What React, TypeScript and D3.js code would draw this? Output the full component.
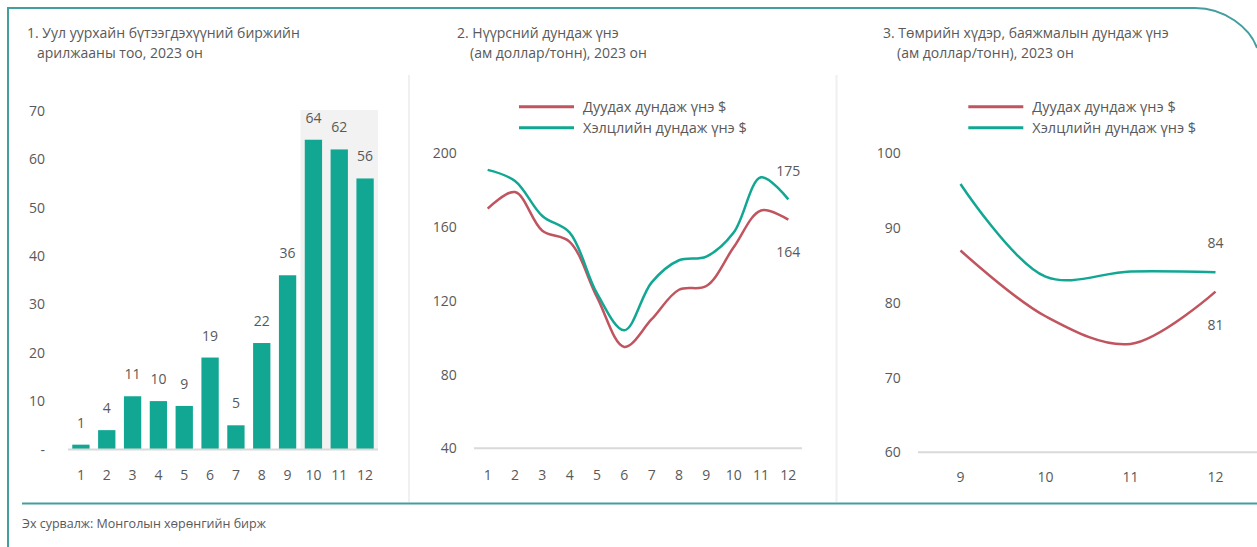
import React from "react";
import * as d3 from "d3";

// ---------- DATA ----------
const months = ["1", "2", "3", "4", "5", "6", "7", "8", "9", "10", "11", "12"];
const tradeCounts = [1, 4, 11, 10, 9, 19, 5, 22, 36, 64, 62, 56];
const tradeTicks = [0, 10, 20, 30, 40, 50, 60, 70];

const coalBid = [170, 179, 158, 152, 122, 95, 110, 126, 128, 149, 169, 164];
const coalDeal = [191, 185, 166, 157, 124, 104, 130, 142, 144, 157, 187, 175];
const coalTicks = [40, 80, 120, 160, 200];

const oreMonths = ["9", "10", "11", "12"];
const oreBid = [87, 78.2, 74.5, 81.5];
const oreDeal = [95.9, 83.5, 84.2, 84.1];
const oreTicks = [60, 70, 80, 90, 100];

const legendNames = ["Дуудах дундаж үнэ $", "Хэлцлийн дундаж үнэ $"];

const titles = [
  ["1. Уул уурхайн бүтээгдэхүүний биржийн", "арилжааны тоо, 2023 он"],
  ["2. Нүүрсний дундаж үнэ", "(ам доллар/тонн), 2023 он"],
  ["3. Төмрийн хүдэр, баяжмалын дундаж үнэ", "(ам доллар/тонн), 2023 он"],
];
const sourceText = "Эх сурвалж: Монголын хөрөнгийн бирж";

// ---------- STYLE ----------
const FONT = "'Open Sans', 'Noto Sans', sans-serif";
const TXT = "#595959";
const TEAL = "#12a793";
const RED = "#c0545f";
const FRAME = "#449e9f";
const GRID = "#d9d9d9";

function Legend({ x, y }: { x: number; y: number }) {
  const colors = [RED, TEAL];
  return (
    <g>
      {legendNames.map((n, i) => (
        <g key={n}>
          <line x1={x} x2={x + 55} y1={y + i * 21} y2={y + i * 21} stroke={colors[i]} strokeWidth={3} />
          <text x={x + 64} y={y + i * 21 + 5} fontSize={14.5} fill={TXT}>{n}</text>
        </g>
      ))}
    </g>
  );
}

export default function App() {
  // Panel 1
  const x1 = d3.scaleBand<string>().domain(months).range([68, 378]).paddingInner(0.33).paddingOuter(0.165);
  const y1 = d3.scaleLinear().domain([0, 70]).range([449.5, 110.7]);

  // Panel 2
  const x2 = d3.scalePoint<string>().domain(months).range([474, 802]).padding(0.5);
  const y2 = d3.scaleLinear().domain([40, 200]).range([448.3, 153.3]);
  const line2 = (vals: number[]) =>
    d3.line<number>().x((_, i) => x2(months[i])!).y((d) => y2(d)).curve(d3.curveCatmullRom.alpha(0.5))(vals)!;

  // Panel 3
  const x3 = d3.scalePoint<string>().domain(oreMonths).range([918, 1258]).padding(0.5);
  const y3 = d3.scaleLinear().domain([60, 100]).range([452.3, 153.3]);
  const line3 = (vals: number[]) =>
    d3.line<number>().x((_, i) => x3(oreMonths[i])!).y((d) => y3(d)).curve(d3.curveCatmullRom.alpha(0.5))(vals)!;

  const shadeX = x1("10")! - (x1.step() - x1.bandwidth()) / 2;

  return (
    <svg
      width={1257}
      height={547}
      style={{ position: "absolute", left: 0, top: 0, display: "block", background: "#fff" }}
      fontFamily={FONT}
    >
      {/* frame */}
      <path d="M8,547 L8,8 L1195,8 C1225,8 1250,28 1257,48" fill="none" stroke={FRAME} strokeWidth={2} />
      <line x1={22} x2={1257} y1={503.5} y2={503.5} stroke={FRAME} strokeWidth={2} />
      <line x1={409} x2={409} y1={75} y2={502} stroke="#f0f0f0" strokeWidth={2} />
      <line x1={836.5} x2={836.5} y1={75} y2={502} stroke="#f0f0f0" strokeWidth={2} />

      {/* titles */}
      {[
        [27, 37],
        [457, 470],
        [883, 897],
      ].map((xs, i) => (
        <g key={i} fontSize={14} fill={TXT}>
          <text x={xs[0]} y={38}>{titles[i][0]}</text>
          <text x={xs[1]} y={58}>{titles[i][1]}</text>
        </g>
      ))}

      {/* Panel 1 */}
      <rect x={shadeX} y={110} width={378 - shadeX} height={y1(0) - 110} fill="#f2f2f2" />
      {tradeTicks.map((t) => (
        <text key={t} x={45} y={y1(t) + 5} textAnchor="end" fontSize={14} fill={TXT}>
          {t === 0 ? "-" : t}
        </text>
      ))}
      {tradeCounts.map((v, i) => (
        <g key={i}>
          <rect x={x1(months[i])} y={y1(v)} width={x1.bandwidth()} height={y1(0) - y1(v)} fill={TEAL} />
          <text x={x1(months[i])! + x1.bandwidth() / 2} y={y1(v) - 17} textAnchor="middle" fontSize={14} fill={TXT}>
            {v}
          </text>
        </g>
      ))}
      <line x1={68} x2={378} y1={y1(0)} y2={y1(0)} stroke={GRID} strokeWidth={2} />
      {months.map((m) => (
        <text key={m} x={x1(m)! + x1.bandwidth() / 2} y={480} textAnchor="middle" fontSize={14} fill={TXT}>
          {m}
        </text>
      ))}

      {/* Panel 2 */}
      <Legend x={519} y={106.7} />
      {coalTicks.map((t) => (
        <text key={t} x={456.7} y={y2(t) + 5} textAnchor="end" fontSize={14} fill={TXT}>{t}</text>
      ))}
      <line x1={474} x2={802} y1={y2(40)} y2={y2(40)} stroke={GRID} strokeWidth={2} />
      {months.map((m) => (
        <text key={m} x={x2(m)} y={480} textAnchor="middle" fontSize={14} fill={TXT}>{m}</text>
      ))}
      <path d={line2(coalBid)} fill="none" stroke={RED} strokeWidth={2.5} />
      <path d={line2(coalDeal)} fill="none" stroke={TEAL} strokeWidth={2.5} />
      <text x={x2("12")} y={y2(coalDeal[11]) - 23} textAnchor="middle" fontSize={14} fill={TXT}>{coalDeal[11]}</text>
      <text x={x2("12")} y={y2(coalBid[11]) + 37} textAnchor="middle" fontSize={14} fill={TXT}>{coalBid[11]}</text>

      {/* Panel 3 */}
      <Legend x={968.3} y={106.7} />
      {oreTicks.map((t) => (
        <text key={t} x={900.7} y={y3(t) + 5} textAnchor="end" fontSize={14} fill={TXT}>{t}</text>
      ))}
      <line x1={918} x2={1257} y1={y3(60)} y2={y3(60)} stroke={GRID} strokeWidth={2} />
      {oreMonths.map((m) => (
        <text key={m} x={x3(m)} y={482} textAnchor="middle" fontSize={14} fill={TXT}>{m}</text>
      ))}
      <path d={line3(oreBid)} fill="none" stroke={RED} strokeWidth={2.5} />
      <path d={line3(oreDeal)} fill="none" stroke={TEAL} strokeWidth={2.5} />
      <text x={x3("12")} y={y3(oreDeal[3]) - 24} textAnchor="middle" fontSize={14} fill={TXT}>{Math.round(oreDeal[3])}</text>
      <text x={x3("12")} y={y3(oreBid[3]) + 38} textAnchor="middle" fontSize={14} fill={TXT}>{Math.floor(oreBid[3])}</text>

      {/* source */}
      <text x={22} y={528} fontSize={12.5} fill={TXT}>{sourceText}</text>
    </svg>
  );
}
